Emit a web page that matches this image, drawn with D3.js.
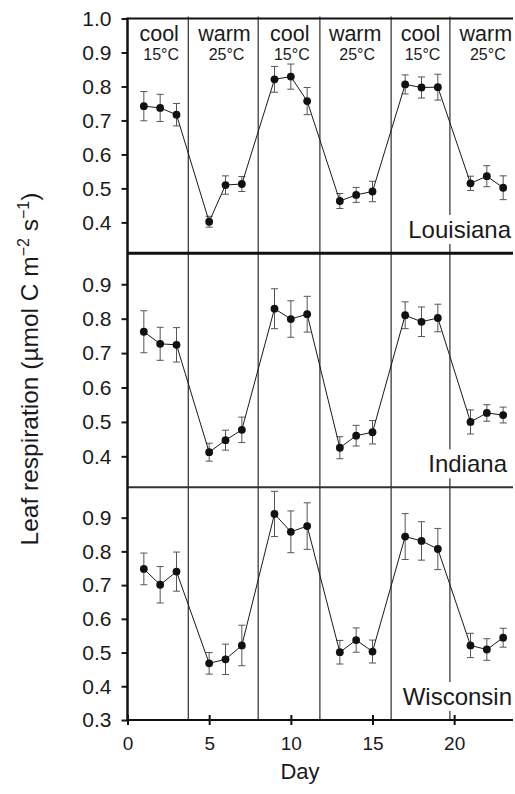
<!DOCTYPE html>
<meta charset="utf-8">
<style>
html, body { margin: 0; padding: 0; background: #fff; }
svg { display: block; font-family: 'Liberation Sans', Arial, Helvetica, sans-serif; }
.tick text { fill: #1a1a1a; }
</style>
<body>
<script src="https://cdn.jsdelivr.net/npm/d3@7"></script>
<script>
// days on which respiration was measured
var days = [1, 2, 3, 5, 6, 7, 9, 10, 11, 13, 14, 15, 17, 18, 19, 21, 22, 23];

var louisianaMean = [0.742, 0.737, 0.717, 0.402, 0.510, 0.513, 0.821, 0.829, 0.757, 0.463, 0.481, 0.491, 0.806, 0.797, 0.798, 0.515, 0.536, 0.502];
var louisianaErr  = [0.043, 0.040, 0.033, 0.016, 0.027, 0.022, 0.038, 0.037, 0.040, 0.022, 0.022, 0.030, 0.028, 0.031, 0.038, 0.021, 0.031, 0.035];
var indianaMean   = [0.762, 0.727, 0.724, 0.412, 0.447, 0.477, 0.829, 0.799, 0.813, 0.425, 0.460, 0.470, 0.810, 0.791, 0.802, 0.500, 0.526, 0.520];
var indianaErr    = [0.061, 0.048, 0.050, 0.026, 0.029, 0.037, 0.058, 0.053, 0.052, 0.032, 0.030, 0.034, 0.039, 0.043, 0.040, 0.035, 0.024, 0.023];
var wisconsinMean = [0.748, 0.701, 0.740, 0.468, 0.480, 0.521, 0.911, 0.858, 0.875, 0.501, 0.537, 0.503, 0.844, 0.831, 0.807, 0.521, 0.509, 0.544];
var wisconsinErr  = [0.047, 0.054, 0.058, 0.032, 0.045, 0.060, 0.067, 0.062, 0.069, 0.035, 0.036, 0.034, 0.068, 0.057, 0.061, 0.036, 0.032, 0.028];

// temperature switches (day) and the periods between them
var switchDays = [3.72, 8.0, 11.78, 16.14, 19.74];
var periodNames = ["cool", "warm", "cool", "warm", "cool", "warm"];
var periodTemps = ["15°C", "25°C", "15°C", "25°C", "15°C", "25°C"];

var yTicksTop = [0.4, 0.5, 0.6, 0.7, 0.8, 0.9, 1.0];
var yTicksMid = [0.4, 0.5, 0.6, 0.7, 0.8, 0.9];
var yTicksBot = [0.3, 0.4, 0.5, 0.6, 0.7, 0.8, 0.9];
var xTicks = [0, 5, 10, 15, 20];
</script>

<script>
var W = 515, H = 794;
var mLeft = 127.5, mRight = 514.6, mTop = 18.5, mBottom = 720;
var ink = "#1a1a1a";

var svg = d3.select("body").append("svg")
  .attr("width", W)
  .attr("height", H);

svg.append("rect").attr("width", W).attr("height", H).attr("fill", "#fff");

var x = d3.scaleLinear().domain([0, 23.7]).range([mLeft, mRight]);

// three stacked panels
var panels = [
  {name: "Louisiana", mean: louisianaMean, err: louisianaErr, ticks: yTicksTop,
   y0: 253, y1: mTop, domain: [0.31, 1.0], labelX: 511},
  {name: "Indiana", mean: indianaMean, err: indianaErr, ticks: yTicksMid,
   y0: 487.3, y1: 253.3, domain: [0.31, 0.99], labelX: 507},
  {name: "Wisconsin", mean: wisconsinMean, err: wisconsinErr, ticks: yTicksBot,
   y0: mBottom, y1: 487.3, domain: [0.30, 0.99], labelX: 512}
];

// vertical period separators
svg.selectAll(".sep")
  .data(switchDays)
  .enter().append("line")
  .attr("class", "sep")
  .attr("x1", function(d) { return x(d); })
  .attr("x2", function(d) { return x(d); })
  .attr("y1", mTop - 2)
  .attr("y2", mBottom)
  .attr("stroke", ink)
  .attr("stroke-width", 1.1);

panels.forEach(function(p) {
  var y = d3.scaleLinear().domain(p.domain).range([p.y0, p.y1]);
  var g = svg.append("g");

  // site label with white backing over the separator line
  var lab = g.append("text")
    .attr("x", p.labelX)
    .attr("y", p.y0 - 15)
    .attr("text-anchor", "end")
    .attr("font-size", "24px")
    .attr("fill", ink)
    .text(p.name);
  var bb = lab.node().getBBox();
  g.insert("rect", "text")
    .attr("x", bb.x - 2).attr("y", bb.y - 1)
    .attr("width", bb.width + 4).attr("height", bb.height + 2)
    .attr("fill", "#fff");

  // y axis
  var ax = g.append("g")
    .attr("transform", "translate(" + mLeft + ",0)")
    .call(d3.axisLeft(y).tickValues(p.ticks).tickSize(6).tickPadding(10)
      .tickFormat(d3.format(".1f")));
  ax.select(".domain").remove();
  ax.selectAll(".tick line").attr("stroke", ink).attr("stroke-width", 2);
  ax.selectAll(".tick text").attr("font-size", "21px").attr("font-family", null);

  var pts = days.map(function(d, i) { return {day: d, v: p.mean[i], e: p.err[i]}; });

  // error bars
  var eb = g.selectAll(".eb").data(pts).enter().append("g").attr("stroke", "#555").attr("stroke-width", 1);
  eb.append("line")
    .attr("x1", function(d) { return x(d.day); }).attr("x2", function(d) { return x(d.day); })
    .attr("y1", function(d) { return y(d.v + d.e); }).attr("y2", function(d) { return y(d.v - d.e); });
  eb.append("line")
    .attr("x1", function(d) { return x(d.day) - 3.5; }).attr("x2", function(d) { return x(d.day) + 3.5; })
    .attr("y1", function(d) { return y(d.v + d.e); }).attr("y2", function(d) { return y(d.v + d.e); });
  eb.append("line")
    .attr("x1", function(d) { return x(d.day) - 3.5; }).attr("x2", function(d) { return x(d.day) + 3.5; })
    .attr("y1", function(d) { return y(d.v - d.e); }).attr("y2", function(d) { return y(d.v - d.e); });

  // connecting line
  g.append("path")
    .datum(pts)
    .attr("fill", "none")
    .attr("stroke", ink)
    .attr("stroke-width", 1)
    .attr("d", d3.line().x(function(d) { return x(d.day); }).y(function(d) { return y(d.v); }));

  g.selectAll(".pt").data(pts).enter().append("circle")
    .attr("cx", function(d) { return x(d.day); })
    .attr("cy", function(d) { return y(d.v); })
    .attr("r", 3.9)
    .attr("fill", "#111");
});

// horizontal frame lines
svg.append("line").attr("x1", mLeft).attr("x2", 513).attr("y1", mTop).attr("y2", mTop)
  .attr("stroke", "#111").attr("stroke-width", 2);
svg.append("line").attr("x1", mLeft).attr("x2", 513).attr("y1", 253.2).attr("y2", 253.2)
  .attr("stroke", "#111").attr("stroke-width", 3);
svg.append("line").attr("x1", mLeft).attr("x2", 513).attr("y1", 487.3).attr("y2", 487.3)
  .attr("stroke", "#333").attr("stroke-width", 2);

// left axis line
svg.append("line").attr("x1", mLeft).attr("x2", mLeft).attr("y1", mTop - 1).attr("y2", mBottom + 1)
  .attr("stroke", "#111").attr("stroke-width", 2.5);

// x axis
var xa = svg.append("g")
  .attr("transform", "translate(0," + mBottom + ")")
  .call(d3.axisBottom(x).tickValues(xTicks).tickSize(5).tickPadding(12));
xa.select(".domain").remove();
xa.selectAll(".tick line").attr("y1", -5).attr("y2", 5).attr("stroke", "#111").attr("stroke-width", 2);
xa.selectAll(".tick text").attr("font-size", "19px").attr("font-family", null);
svg.append("line").attr("x1", mLeft).attr("x2", 513).attr("y1", mBottom).attr("y2", mBottom)
  .attr("stroke", "#111").attr("stroke-width", 2);

// period labels, centred on the measurement days of each period
periodNames.forEach(function(name, i) {
  var mid = d3.mean(days.slice(i * 3, i * 3 + 3));
  svg.append("text")
    .attr("x", x(mid) - 1).attr("y", 41)
    .attr("text-anchor", "middle").attr("font-size", "21.5px").attr("fill", ink)
    .text(name);
  svg.append("text")
    .attr("x", x(mid) + 1).attr("y", 60)
    .attr("text-anchor", "middle").attr("font-size", "16px").attr("fill", ink)
    .text(periodTemps[i]);
});

// axis titles
svg.append("text")
  .attr("x", 300).attr("y", 779)
  .attr("text-anchor", "middle").attr("font-size", "22px").attr("fill", ink)
  .text("Day");

var yl = svg.append("text")
  .attr("transform", "translate(38,369) rotate(-90)")
  .attr("text-anchor", "middle").attr("font-size", "24.5px").attr("fill", ink);
yl.append("tspan").text("Leaf respiration (µmol C m");
yl.append("tspan").attr("dy", -9).attr("font-size", "16px").text("−2");
yl.append("tspan").attr("dy", 9).text(" s");
yl.append("tspan").attr("dy", -9).attr("font-size", "16px").text("−1");
yl.append("tspan").attr("dy", 9).text(")");
</script>
</body>
